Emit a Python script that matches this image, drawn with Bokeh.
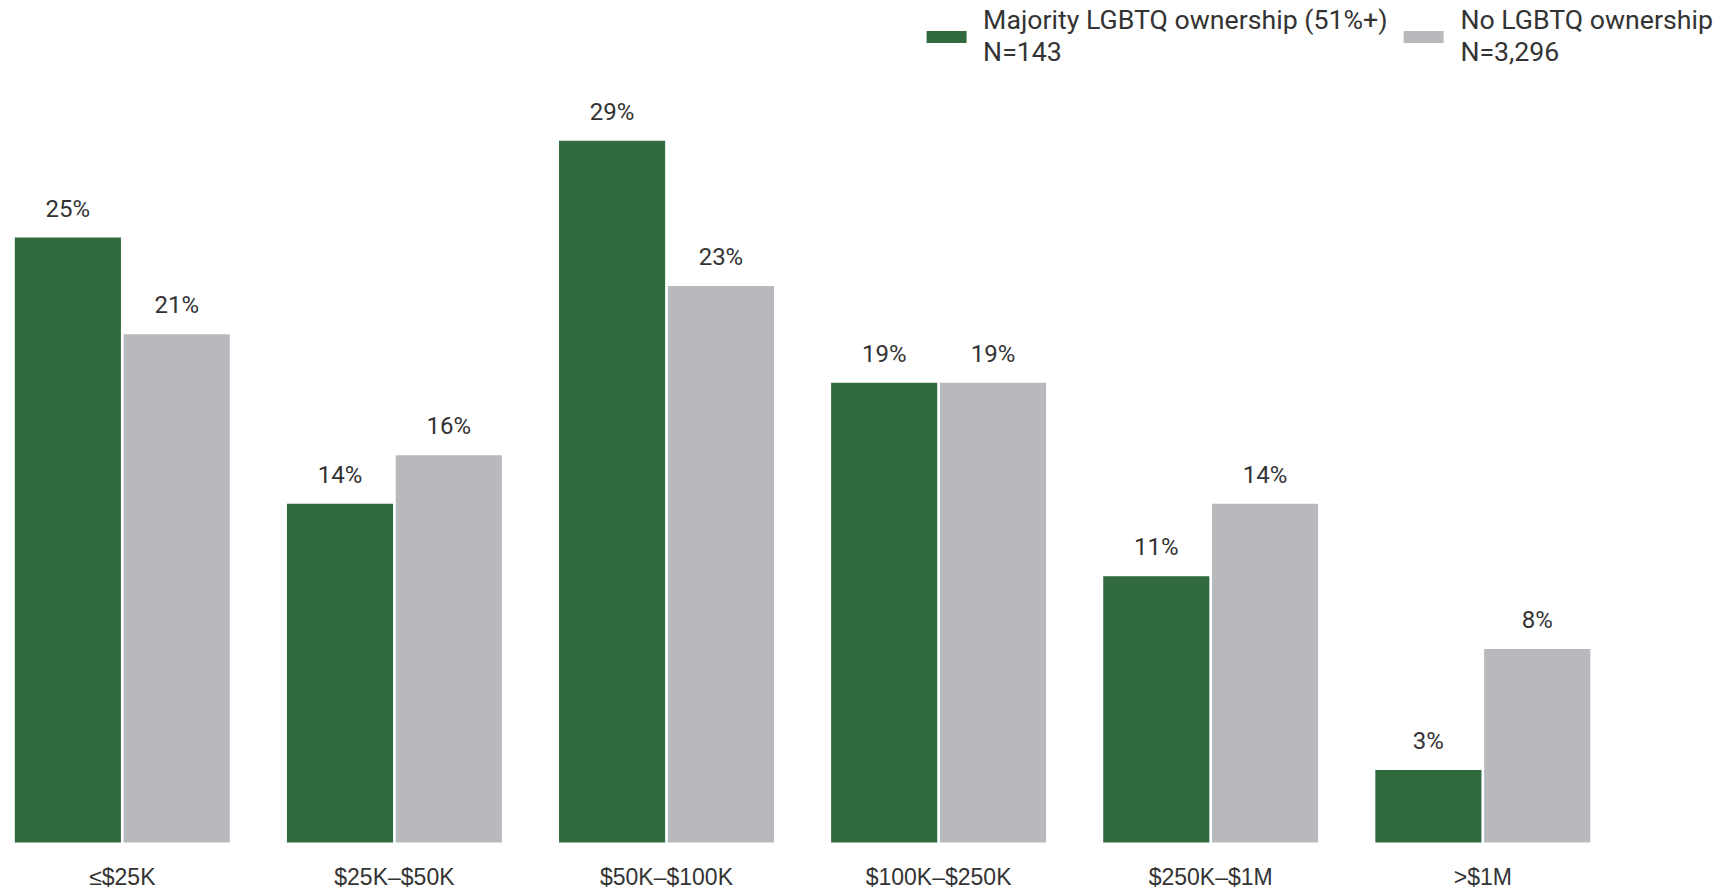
from bokeh.plotting import figure
from bokeh.models import ColumnDataSource, Range1d, Legend, LegendItem
from bokeh.embed import file_html
from bokeh.resources import INLINE
from bokeh.core.properties import value

categories = ["≤$25K", "$25K–$50K", "$50K–$100K", "$100K–$250K", "$250K–$1M", ">$1M"]
majority_lgbtq = [25, 14, 29, 19, 11, 3]
no_lgbtq = [21, 16, 23, 19, 14, 8]
series_names = ["Majority LGBTQ ownership (51%+)\nN=143", "No LGBTQ ownership\nN=3,296"]
colors = ["#316a3f", "#b8b9bd"]

idx = list(range(len(categories)))
W, H = 1727, 889
right_pad = 10
unit_px = 272.1
x_start = -121.8 / unit_px
x_end = x_start + (W - right_pad) / unit_px
px_per_pct = 24.2
base_px = 842
y_start = -(H - base_px) / px_per_pct
y_end = base_px / px_per_pct

p = figure(width=W, height=H, output_backend="svg", toolbar_location=None,
           x_range=Range1d(x_start, x_end), y_range=Range1d(y_start, y_end),
           min_border_left=0, min_border_right=right_pad, min_border_top=0,
           min_border_bottom=0, x_axis_location=None, y_axis_location=None)
p.outline_line_color = None
p.xgrid.visible = False
p.ygrid.visible = False
p.background_fill_color = "white"

src = ColumnDataSource(dict(
    xg=[i - 0.2 for i in idx], xn=[i + 0.2 for i in idx],
    g=majority_lgbtq, n=no_lgbtq,
    gl=[f"{v}%" for v in majority_lgbtq], nl=[f"{v}%" for v in no_lgbtq]))

r1 = p.vbar(x="xg", top="g", width=0.39, bottom=0, source=src, fill_color=colors[0], line_color=None)
r2 = p.vbar(x="xn", top="n", width=0.39, bottom=0, source=src, fill_color=colors[1], line_color=None)

for xcol, tcol in (("xg", "g"), ("xn", "n")):
    p.text(x=xcol, y=tcol, text=tcol + "l", source=src, text_align="center",
           text_baseline="alphabetic", y_offset=-29, text_font=value("Roboto"),
           text_font_size="24px", text_color="#333333")

cat_src = ColumnDataSource(dict(x=idx, y=[0] * len(idx), label=categories))
p.text(x="x", y="y", text="label", source=cat_src, text_align="center",
       text_baseline="alphabetic", y_offset=34, text_font=value("Liberation Sans"),
       text_font_size="23px", text_color="#333333")

legend = Legend(items=[LegendItem(label=series_names[0], renderers=[r1]),
                       LegendItem(label=series_names[1], renderers=[r2])],
                location="top_right", orientation="horizontal",
                glyph_width=50, glyph_height=15, label_standoff=12, spacing=11,
                padding=0, margin=4, border_line_color=None, background_fill_alpha=0,
                label_text_font="Roboto", label_text_font_size="26.7px",
                label_text_color="#333333", label_text_line_height=1.06)
p.add_layout(legend, "center")

open("out.html", "w").write(file_html(p, INLINE))
